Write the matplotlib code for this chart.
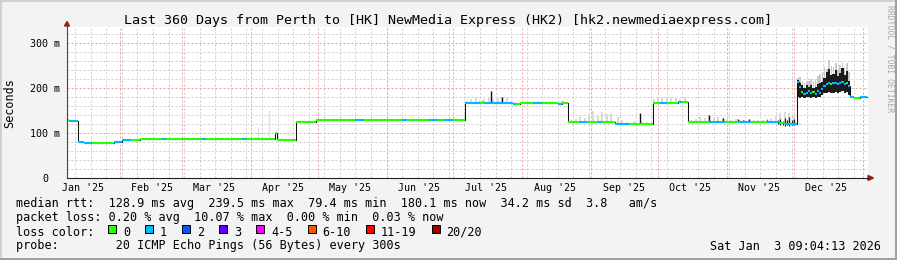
import numpy as np
import pandas as pd
import matplotlib
matplotlib.use('Agg')
import matplotlib.pyplot as plt
import matplotlib.dates as mdates
from matplotlib.patches import Rectangle, Polygon
from matplotlib.lines import Line2D

W, H = 897, 260
plt.rcParams['font.family'] = 'DejaVu Sans Mono'

t_start = '2025-01-08 09:04:13'
t_end = '2026-01-03 09:04:13'

title = 'Last 360 Days from Perth to [HK] NewMedia Express (HK2) [hk2.newmediaexpress.com]'

# median rtt (ms) as steps: start of step, level, lost pings (of 20)
step_date = ['2025-01-08 09:04', '2025-01-09 12:00', '2025-01-13 10:00', '2025-01-16',
             '2025-01-19 12:00', '2025-01-29 12:00', '2025-02-02', '2025-02-06',
             '2025-02-10', '2025-02-20', '2025-02-22', '2025-03-10', '2025-03-12',
             '2025-03-28', '2025-03-30', '2025-04-11 20:00', '2025-04-12 16:00',
             '2025-04-21 04:00', '2025-04-30 06:00', '2025-05-18', '2025-05-22',
             '2025-06-08', '2025-06-10', '2025-06-20', '2025-06-24', '2025-06-27',
             '2025-07-01', '2025-07-06 04:00', '2025-07-13', '2025-07-15',
             '2025-07-27 16:00', '2025-07-29', '2025-07-31', '2025-08-06', '2025-08-10',
             '2025-08-17', '2025-08-19', '2025-08-21 12:00', '2025-08-27', '2025-08-30',
             '2025-09-04', '2025-09-06', '2025-09-11 12:00', '2025-09-18',
             '2025-09-28 18:00', '2025-10-02', '2025-10-05', '2025-10-10', '2025-10-12',
             '2025-10-14 11:00', '2025-10-24', '2025-10-31', '2025-11-06', '2025-11-12',
             '2025-11-19', '2025-11-25', '2025-11-27']
step_rtt = [128, 127, 80, 78,
            78, 80, 84, 85,
            87, 87, 87, 87, 86,
            87, 87, 99, 85,
            125, 130, 130, 130,
            129, 130, 130, 129, 130,
            130, 167, 167, 167,
            165, 165, 167, 167, 167,
            164, 167, 125, 125, 125,
            125, 125, 120, 120,
            166, 167, 167, 168, 168,
            124, 124, 124, 124, 124,
            124, 122, 120]
step_loss = [0, 1, 1, 1,
             0, 1, 1, 0,
             0, 1, 0, 1, 0,
             1, 0, 0, 0,
             0, 0, 1, 0,
             1, 0, 1, 0, 1,
             0, 1, 0, 1,
             1, 0, 0, 1, 0,
             1, 0, 0, 1, 0,
             1, 0, 1, 0,
             0, 1, 0, 1, 0,
             0, 1, 0, 1, 0,
             1, 0, 1]

# December: daily median, dark smoke band and outer smoke top (ms)
dec_rtt = [214, 203, 192, 186, 190, 194, 189, 192, 187, 193, 190, 197,
           204, 210, 212, 209, 211, 212, 209, 212, 213, 209, 211, 204]
dec_loss = [1, 1, 0, 1, 1, 1, 1, 0, 1, 1, 1, 1,
            1, 1, 1, 0, 1, 1, 1, 1, 1, 1, 0, 1]
dec_dark_lo = [180, 178, 179, 178, 180, 181, 178, 180, 178, 181, 180, 184,
               188, 190, 192, 190, 190, 192, 190, 192, 193, 190, 192, 184]
dec_dark_hi = [218, 212, 206, 200, 206, 202, 206, 200, 203, 208, 212, 214,
               222, 236, 242, 228, 232, 240, 226, 234, 244, 228, 238, 216]
dec_smoke_hi = [222, 225, 216, 211, 214, 216, 219, 216, 221, 226, 232, 236,
                246, 242, 262, 250, 246, 256, 240, 252, 258, 246, 256, 236]

tail_date = ['2025-12-26 09:00', '2025-12-28', '2025-12-31']
tail_rtt = [180, 178, 179]
tail_loss = [1, 0, 1]
data_stop = '2026-01-02 22:00'

# light smoke above the median (ms)
smoke_date = ['2025-07-07', '2025-07-09', '2025-07-11', '2025-07-13', '2025-07-15',
              '2025-07-17', '2025-07-19', '2025-07-21', '2025-07-23', '2025-07-25',
              '2025-07-29', '2025-08-02', '2025-08-08', '2025-08-14',
              '2025-08-23', '2025-08-25', '2025-08-27', '2025-08-29', '2025-08-31',
              '2025-09-02', '2025-09-04', '2025-09-06', '2025-09-08', '2025-09-10',
              '2025-09-13', '2025-09-15', '2025-09-17', '2025-09-20', '2025-09-24',
              '2025-09-26', '2025-09-29', '2025-10-01', '2025-10-03', '2025-10-05',
              '2025-10-07', '2025-10-09', '2025-10-11', '2025-10-13',
              '2025-10-16', '2025-10-18', '2025-10-20', '2025-10-22', '2025-10-24',
              '2025-10-26', '2025-10-28', '2025-10-30', '2025-11-01', '2025-11-03',
              '2025-11-05', '2025-11-07', '2025-11-09', '2025-11-11', '2025-11-13',
              '2025-11-15', '2025-11-17', '2025-11-19', '2025-11-21', '2025-11-23',
              '2025-11-25', '2025-11-27', '2025-11-29', '2025-12-01']
smoke_top = [172, 175, 178, 174, 176,
             180, 175, 178, 181, 177,
             169, 170, 171, 170,
             130, 132, 135, 133, 140,
             150, 138, 147, 142, 145,
             135, 128, 124, 126, 125,
             124, 175, 180, 178, 181,
             178, 180, 176, 179,
             130, 132, 135, 133, 138,
             134, 136, 133, 131, 129,
             132, 130, 128, 130, 128,
             130, 128, 131, 134, 140,
             145, 147, 145, 140]

# faint single outliers
faint_date = ['2025-04-04', '2025-04-09']
faint_lo = [89, 91]
faint_hi = [114, 151]

# dark spikes of the median
spike_date = ['2025-07-14', '2025-07-18', '2025-07-23', '2025-08-19', '2025-09-23',
              '2025-10-24', '2025-10-30', '2025-11-06', '2025-11-08', '2025-11-11',
              '2025-11-19']
spike_top = [172, 193, 180, 172, 144, 140, 133, 132, 130, 131, 129]

# dark noise at the end of November
nov_date = ['2025-11-24', '2025-11-25', '2025-11-26', '2025-11-27',
            '2025-11-28', '2025-11-29', '2025-11-30', '2025-12-01']
nov_lo = [119, 117, 118, 116, 117, 116, 118, 117]
nov_hi = [128, 131, 127, 133, 130, 135, 129, 132]

rtt_avg, rtt_max, rtt_min, rtt_now, rtt_sd, rtt_ams = 128.9, 239.5, 79.4, 180.1, 34.2, 3.8
loss_avg, loss_max, loss_min, loss_now = 0.20, 10.07, 0.00, 0.03
loss_labels = ['0', '1', '2', '3', '4-5', '6-10', '11-19', '20/20']
loss_colors = ['#26ff00', '#00b8ff', '#0059ff', '#5e00ff', '#ff00ff', '#ff5500', '#ff0000', '#a10000']
probe = '20 ICMP Echo Pings (56 Bytes) every 300s'
stamp = 'Sat Jan  3 09:04:13 2026'


def num(d):
    if isinstance(d, str):
        return mdates.date2num(pd.Timestamp(d))
    return mdates.date2num(pd.to_datetime(d, format='ISO8601'))


dec_date = pd.date_range('2025-12-02 09:00', periods=len(dec_rtt), freq='D')
t_all = np.concatenate([num(step_date), mdates.date2num(dec_date), num(tail_date)])
r_all = np.array(step_rtt + dec_rtt + tail_rtt, dtype=float)
l_all = step_loss + dec_loss + tail_loss
t_edges = np.append(t_all, num(data_stop))


def level_at(t):
    i = np.searchsorted(t_all, t, side='right') - 1
    return r_all[i]


fig = plt.figure(figsize=(W / 100, H / 100), dpi=100, facecolor='#f3f3f3')
ax = fig.add_axes([67 / W, 1 - 178 / H, 801 / W, 151 / H])
ax.set_facecolor('white')
ax.set_xlim(num(t_start), num(t_end))
ax.set_ylim(0, 151 / 0.45)
for s in ax.spines.values():
    s.set_visible(False)

# grid
dots = (0, (2, 2))
for d in pd.date_range('2025-01-12', t_end, freq='W-SUN'):
    ax.axvline(mdates.date2num(d), color='#cccccc', lw=0.72, ls=dots, zorder=0)
for v in range(20, 340, 20):
    if v % 100:
        ax.axhline(v, color='#cccccc', lw=0.72, ls=dots, zorder=0)
for d in pd.date_range('2025-02-01', t_end, freq='MS'):
    ax.axvline(mdates.date2num(d), color='#f2a0a0', lw=0.72, ls=dots, zorder=0)
for v in (100, 200, 300):
    ax.axhline(v, color='#f2a0a0', lw=0.72, ls=dots, zorder=0)

# smoke
st = num(smoke_date)
base = level_at(st)
ax.bar(st, np.array(smoke_top) - base + 2, bottom=base - 2, width=0.9,
       color='#d9d9d9', linewidth=0, zorder=1)
ax.vlines(num(faint_date), faint_lo, faint_hi, color='#dedede', lw=1.0, zorder=1)
dt = mdates.date2num(dec_date) + 0.5
ax.bar(dt, np.array(dec_smoke_hi) - np.array(dec_dark_lo), bottom=dec_dark_lo,
       width=0.7, color='#c8c8c8', linewidth=0, zorder=1)
ax.bar(dt, np.array(dec_dark_hi) - np.array(dec_dark_lo), bottom=dec_dark_lo,
       width=1.0, color='#1c1c1c', linewidth=0, zorder=2)
ax.vlines(num(nov_date), nov_lo, nov_hi, color='#202020', lw=0.9, zorder=2)

# median
ax.plot(t_edges, np.append(r_all, r_all[-1]), drawstyle='steps-post',
        color='#111111', lw=0.75, zorder=3)
sp = num(spike_date)
ax.vlines(sp, level_at(sp), spike_top, color='#111111', lw=1.0, zorder=3)
ax.hlines(r_all, t_edges[:-1], t_edges[1:], colors=[loss_colors[l] for l in l_all],
          lw=1.5, zorder=4)

# ticks
lab_pos = [pd.Timestamp(2025, m, 15, 12) for m in range(1, 13)]
ax.set_xticks(mdates.date2num(lab_pos), [d.strftime("%b '%y") for d in lab_pos])
ax.tick_params(axis='x', length=0, pad=3.9, labelsize=7.2)
ax.set_yticks([100, 200, 300], ['100 m', '200 m', '300 m'])
ax.tick_params(axis='y', length=0, pad=5.0, labelsize=7.2)
ax.text(-19 / 801, 0, '0', transform=ax.get_yaxis_transform(), ha='right',
        va='center_baseline', fontsize=7.2)


def fx(x):
    return x / W


def fy(y):
    return 1 - y / H


# axes and arrows
fig.add_artist(Line2D([fx(67), fx(869)], [fy(178), fy(178)], color='#222222', lw=0.8))
fig.add_artist(Line2D([fx(67), fx(67)], [fy(178), fy(24)], color='#444444', lw=0.8))
fig.add_artist(Polygon([(fx(64.5), fy(26)), (fx(67), fy(21.5)), (fx(69.5), fy(26))],
                       closed=True, color='#9b1c1c', transform=fig.transFigure))
fig.add_artist(Polygon([(fx(868), fy(175.5)), (fx(873.5), fy(178)), (fx(868), fy(180.5))],
                       closed=True, color='#9b1c1c', transform=fig.transFigure))

# frame
fig.add_artist(Line2D([0, 1], [fy(1), fy(1)], color='#d0d0d0', lw=1.44))
fig.add_artist(Line2D([fx(1), fx(1)], [0, 1], color='#d0d0d0', lw=1.44))
fig.add_artist(Line2D([0, 1], [fy(259), fy(259)], color='#a0a0a0', lw=1.44))
fig.add_artist(Line2D([fx(896), fx(896)], [0, 1], color='#a0a0a0', lw=1.44))

# texts
fig.text(fx(447.5), fy(24), title, ha='center', va='baseline', fontsize=9.6)
fig.text(fx(10), fy(103), 'Seconds', rotation=90, ha='center', va='center', fontsize=8.5)
fig.text(fx(889.5), fy(59), 'RRDTOOL / TOBI OETIKER', rotation=270, ha='center',
         va='center', fontsize=5.8, color='#a8a8a8')

line1 = (f'median rtt:  {rtt_avg:.1f} ms avg  {rtt_max:.1f} ms max  {rtt_min:.1f} ms min  '
         f'{rtt_now:.1f} ms now  {rtt_sd:.1f} ms sd  {rtt_ams:.1f}   am/s')
line2 = (f'packet loss: {loss_avg:.2f} % avg  {loss_max:.2f} % max  {loss_min:.2f} % min  '
         f'{loss_now:.2f} % now')
fig.text(fx(15.5), fy(207.5), line1, ha='left', va='baseline', fontsize=8.5)
fig.text(fx(15.5), fy(221.5), line2, ha='left', va='baseline', fontsize=8.5)
fig.text(fx(15.5), fy(235.5), 'loss color:', ha='left', va='baseline', fontsize=8.5)
fig.text(fx(15.5), fy(249.5), 'probe:        ' + probe, ha='left', va='baseline', fontsize=8.5)
fig.text(fx(880.5), fy(249.5), stamp, ha='right', va='baseline', fontsize=8.5)

pitch = 7.1
bx = 108
for lab, col in zip(loss_labels, loss_colors):
    fig.add_artist(Rectangle((fx(bx), fy(232.5)), 8 / W, 8 / H, transform=fig.transFigure,
                             facecolor=col, edgecolor='black', lw=0.72))
    fig.text(fx(bx + 15), fy(235.5), lab, ha='left', va='baseline', fontsize=8.5)
    bx = bx + 15 + len(lab) * pitch + 15

fig.savefig('out.png', dpi=100, facecolor=fig.get_facecolor())
